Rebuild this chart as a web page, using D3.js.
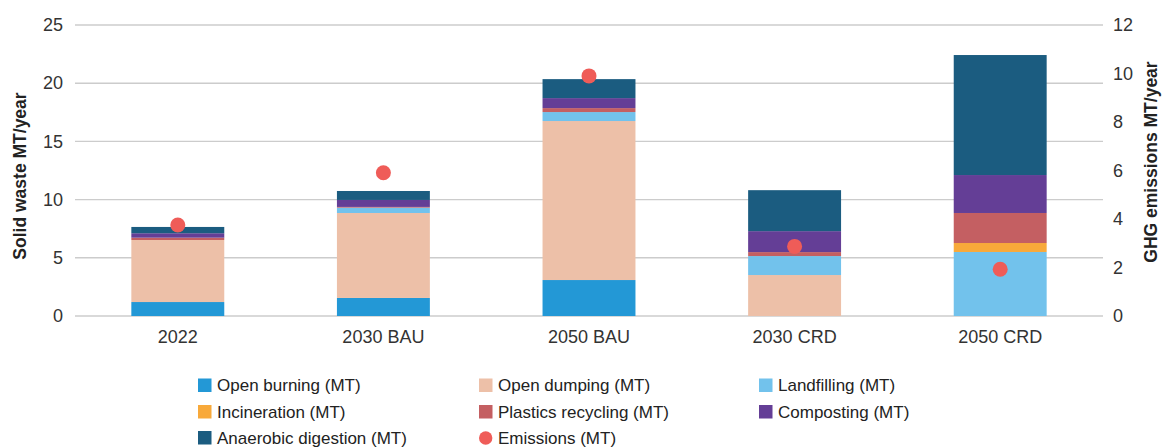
<!DOCTYPE html>
<html><head><meta charset="utf-8">
<script src="https://cdn.jsdelivr.net/npm/d3@7"></script>
<style>
html,body{margin:0;padding:0;background:#fff;}
svg{display:block;font-family:"Liberation Sans",Arial,sans-serif;}
</style></head>
<body><svg id="chart" width="1162" height="448"></svg>
<script>
const categories = ["2022", "2030 BAU", "2050 BAU", "2030 CRD", "2050 CRD"];
const openBurning = [1.20, 1.55, 3.09, 0, 0];
const openDumping = [5.33, 7.30, 13.66, 3.52, 0];
const landfilling = [0, 0.46, 0.77, 1.63, 5.50];
const incineration = [0, 0, 0, 0, 0.77];
const plasticsRecycling = [0.20, 0.06, 0.34, 0.34, 2.58];
const composting = [0.38, 0.60, 0.86, 1.80, 3.26];
const anaerobicDigestion = [0.54, 0.77, 1.63, 3.52, 10.31];
const emissions = [3.75, 5.91, 9.90, 2.87, 1.93];
const leftTicks = [0, 5, 10, 15, 20, 25];
const rightTicks = [0, 2, 4, 6, 8, 10, 12];

const series = [
  {name: "Open burning (MT)", values: openBurning, color: "#2398d6"},
  {name: "Open dumping (MT)", values: openDumping, color: "#edc0a8"},
  {name: "Landfilling (MT)", values: landfilling, color: "#72c2ec"},
  {name: "Incineration (MT)", values: incineration, color: "#f8a93a"},
  {name: "Plastics recycling (MT)", values: plasticsRecycling, color: "#c45f62"},
  {name: "Composting (MT)", values: composting, color: "#643e96"},
  {name: "Anaerobic digestion (MT)", values: anaerobicDigestion, color: "#1b5c80"}
];
const emColor = "#ef5c58";

const svg = d3.select("#chart");
const plotL = 75, plotR = 1103, plotTop = 25, plotBot = 316;

const x = d3.scaleBand().domain(categories).range([plotL, plotR]).paddingInner(0).paddingOuter(0);
const barW = x.bandwidth() * 0.452;
const yL = d3.scaleLinear().domain([0, 25]).range([plotBot, plotTop]);
const yR = d3.scaleLinear().domain([0, 12]).range([plotBot, plotTop]);

// gridlines
svg.append("g").selectAll("line").data(leftTicks).join("line")
  .attr("x1", plotL).attr("x2", plotR)
  .attr("y1", d => yL(d)).attr("y2", d => yL(d))
  .attr("stroke", "#cccccc").attr("stroke-width", 1.4);

// stacked bars
const rows = categories.map((c, i) => {
  const o = {cat: c};
  series.forEach(s => o[s.name] = s.values[i]);
  return o;
});
const stack = d3.stack().keys(series.map(s => s.name));
const stacked = stack(rows);
const gBars = svg.append("g");
stacked.forEach((layer, k) => {
  gBars.append("g").attr("fill", series[k].color)
    .selectAll("rect").data(layer).join("rect")
    .attr("x", d => x(d.data.cat) + (x.bandwidth() - barW) / 2)
    .attr("width", barW)
    .attr("y", d => yL(d[1]))
    .attr("height", d => Math.max(0, yL(d[0]) - yL(d[1])));
});

// emissions dots
svg.append("g").selectAll("circle").data(emissions).join("circle")
  .attr("cx", (d, i) => x(categories[i]) + x.bandwidth() / 2)
  .attr("cy", d => yR(d))
  .attr("r", 7.5)
  .attr("fill", emColor);

const tickFont = 18;
// left axis
const axL = svg.append("g").attr("transform", `translate(${plotL - 12},0)`)
  .call(d3.axisLeft(yL).tickValues(leftTicks).tickSize(0).tickPadding(0));
axL.select(".domain").remove();
axL.selectAll("text").attr("font-size", tickFont).attr("fill", "#333").attr("font-family", "Liberation Sans, Arial, sans-serif");

// right axis
const axR = svg.append("g").attr("transform", `translate(${plotR + 10},0)`)
  .call(d3.axisRight(yR).tickValues(rightTicks).tickSize(0).tickPadding(0));
axR.select(".domain").remove();
axR.selectAll("text").attr("font-size", tickFont).attr("fill", "#333").attr("font-family", "Liberation Sans, Arial, sans-serif");

// x axis
const axX = svg.append("g").attr("transform", `translate(0,${plotBot + 14})`)
  .call(d3.axisBottom(x).tickSize(0).tickPadding(0));
axX.select(".domain").remove();
axX.selectAll("text").attr("font-size", tickFont).attr("fill", "#333").attr("dy", "0.71em").attr("font-family", "Liberation Sans, Arial, sans-serif");

// axis titles
svg.append("text").attr("transform", "translate(25.5,176) rotate(-90)")
  .attr("text-anchor", "middle").attr("font-size", 17.5).attr("font-weight", "bold").attr("fill", "#222")
  .text("Solid waste MT/year");
svg.append("text").attr("transform", "translate(1157,162) rotate(-90)")
  .attr("text-anchor", "middle").attr("font-size", 17.5).attr("font-weight", "bold").attr("fill", "#222")
  .text("GHG emissions MT/year");

// legend
const legendItems = series.map(s => ({name: s.name, color: s.color, type: "rect"}))
  .concat([{name: "Emissions (MT)", color: emColor, type: "circle"}]);
const colX = [198, 479, 759];
const rowY = [385.5, 412, 438];
const lg = svg.append("g");
legendItems.forEach((it, i) => {
  const cx = colX[i % 3], cy = rowY[Math.floor(i / 3)];
  if (it.type === "rect") {
    lg.append("rect").attr("x", cx).attr("y", cy - 7).attr("width", 13.5).attr("height", 13.5).attr("fill", it.color);
  } else {
    lg.append("circle").attr("cx", cx + 6.7).attr("cy", cy).attr("r", 6.7).attr("fill", it.color);
  }
  lg.append("text").attr("x", cx + 19).attr("y", cy).attr("dy", "0.35em")
    .attr("font-size", 17).attr("fill", "#222").text(it.name);
});
</script></body></html>
